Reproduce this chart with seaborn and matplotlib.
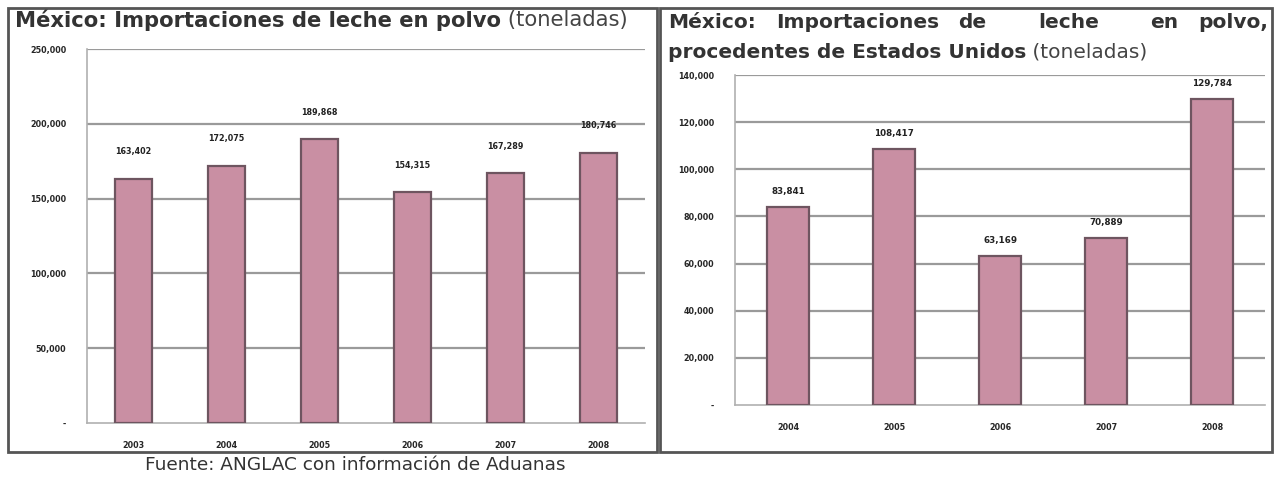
import numpy as np
import pandas as pd
import matplotlib
matplotlib.use("Agg")
import matplotlib.pyplot as plt
import seaborn as sns
from matplotlib.patches import Rectangle

# === data ===
years_total = ["2003", "2004", "2005", "2006", "2007", "2008"]
tons_total = [163402, 172075, 189868, 154315, 167289, 180746]

years_usa = ["2004", "2005", "2006", "2007", "2008"]
tons_usa = [83841, 108417, 63169, 70889, 129784]

BAR = "#c98fa3"
EDGE = "#6e5560"
GRID = "#9a9a9a"

sns.set_theme(style="white")
plt.rcParams["font.family"] = ["DejaVu Sans"]

fig = plt.figure(figsize=(12.75, 4.8), dpi=100)


def fmt(v):
    return "-" if v == 0 else f"{v:,.0f}"


def draw_panel(ax, years, tons, ymax, step, lab_off, lab_size):
    df = pd.DataFrame({"year": years, "tons": tons})
    sns.barplot(data=df, x="year", y="tons", color=BAR, width=0.4,
                edgecolor=EDGE, linewidth=1.6, saturation=1, ax=ax, zorder=3)
    ticks = np.arange(0, ymax + 1, step)
    ax.set_ylim(0, ymax)
    ax.set_yticks(ticks)
    ax.set_yticklabels([fmt(t) for t in ticks], fontsize=5.8, fontweight="bold")
    for t in ticks[1:]:
        ax.axhline(t, color=GRID, lw=1.6, zorder=1)
    ax.set_xticks(range(len(years)))
    ax.set_xticklabels(years, fontsize=5.8, fontweight="bold")
    ax.set_xlabel("")
    ax.set_ylabel("")
    for s in ["top", "right"]:
        ax.spines[s].set_visible(False)
    for s in ["left", "bottom"]:
        ax.spines[s].set_color("#b0b0b0")
        ax.spines[s].set_linewidth(1.2)
    ax.tick_params(axis="y", length=3, color="#b0b0b0", pad=12)
    ax.tick_params(axis="x", length=0, pad=13)
    for i, v in enumerate(tons):
        ax.annotate(f"{v:,}", (i, v), xytext=(0, lab_off), textcoords="offset points",
                    ha="center", va="bottom", fontsize=lab_size, fontweight="bold",
                    color="#222222")


ax1 = fig.add_axes([87 / 1275, 1 - 423 / 480, (645 - 87) / 1275, (423 - 49) / 480])
draw_panel(ax1, years_total, tons_total, 250000, 50000, 16, 5.8)

ax2 = fig.add_axes([735 / 1275, 1 - 405 / 480, (1265 - 735) / 1275, (405 - 75) / 480])
draw_panel(ax2, years_usa, tons_usa, 140000, 20000, 8, 6.3)

# panel frames
fig.patches.append(Rectangle((8 / 1275, 1 - 452 / 480), (657 - 8) / 1275, (452 - 8) / 480,
                             transform=fig.transFigure, fill=False, ec="#555555", lw=2))
fig.patches.append(Rectangle((660 / 1275, 1 - 452 / 480), (1272 - 660) / 1275, (452 - 8) / 480,
                             transform=fig.transFigure, fill=False, ec="#555555", lw=2))

# titles
t1 = fig.text(15 / 1275, 1 - 20 / 480, "México: Importaciones de leche en polvo",
              fontsize=15.2, fontweight="bold", color="#333333", va="center")
plt.annotate(" (toneladas)", xy=(1, 0.5), xycoords=t1, va="center", ha="left",
             fontsize=15.2, color="#444444", annotation_clip=False)

words = ["México:", "Importaciones", "de", "leche", "en", "polvo,"]
xs = [668, 776, 958, 1038, 1150, 1268]
for w, x in zip(words, xs):
    fig.text(x / 1275, 1 - 22 / 480, w, fontsize=14.5, fontweight="bold", color="#333333",
             va="center", ha="right" if w == "polvo," else "left")
t2 = fig.text(668 / 1275, 1 - 52 / 480, "procedentes de Estados Unidos",
              fontsize=14.5, fontweight="bold", color="#333333", va="center")
plt.annotate(" (toneladas)", xy=(1, 0.5), xycoords=t2, va="center", ha="left",
             fontsize=14.5, color="#444444", annotation_clip=False)

fig.text(145 / 1275, 1 - 465 / 480, "Fuente: ANGLAC con información de Aduanas",
         fontsize=13.3, color="#333333", va="center")

fig.savefig("out.png", dpi=100)
